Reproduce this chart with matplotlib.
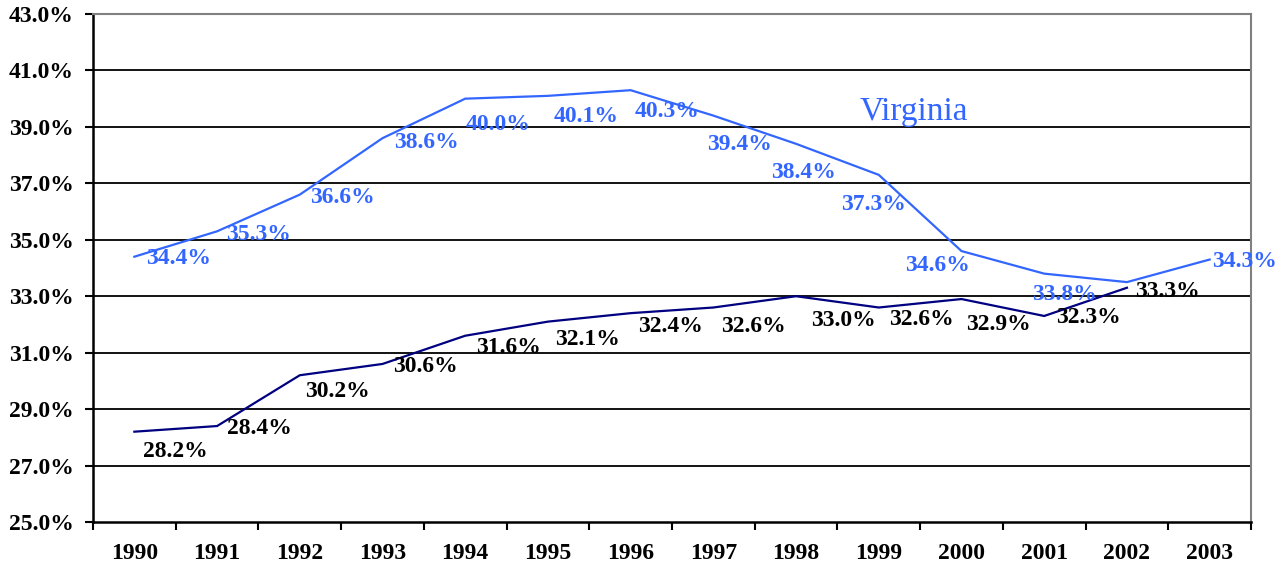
import matplotlib
import matplotlib.pyplot as plt
from matplotlib.ticker import FixedLocator

matplotlib.use('Agg')

years = ['1990', '1991', '1992', '1993', '1994', '1995', '1996',
         '1997', '1998', '1999', '2000', '2001', '2002', '2003']
virginia = [34.4, 35.3, 36.6, 38.6, 40.0, 40.1, 40.3, 39.4, 38.4, 37.3, 34.6, 33.8, 33.5, 34.3]
virginia_labels = ['34.4%', '35.3%', '36.6%', '38.6%', '40.0%', '40.1%', '40.3%',
                   '39.4%', '38.4%', '37.3%', '34.6%', '33.8%', '', '34.3%']
other = [28.2, 28.4, 30.2, 30.6, 31.6, 32.1, 32.4, 32.6, 33.0, 32.6, 32.9, 32.3, 33.3]
other_labels = ['28.2%', '28.4%', '30.2%', '30.6%', '31.6%', '32.1%', '32.4%',
                '32.6%', '33.0%', '32.6%', '32.9%', '32.3%', '33.3%']
yticks = [25, 27, 29, 31, 33, 35, 37, 39, 41, 43]

# label offsets in pixels (dx right, dy down) as placed in the original
virginia_off = [(44, 2), (41, 3), (43, 3), (44, 4), (33, 26), (38, 21), (36, 21),
                (26, 29), (7, 29), (-5, 30), (-24, 14), (20, 21), (0, 0), (35, 2)]
other_off = [(41, 20), (42, 2), (38, 16), (43, 3), (43, 12), (40, 18), (40, 13),
             (40, 19), (47, 24), (43, 12), (37, 25), (44, 2), (41, 4)]

blue = '#3366ff'
navy = '#000080'
font = 'Liberation Serif'
fs = 17

fig = plt.figure(figsize=(12.81, 5.75), dpi=100)
ax = fig.add_axes([93 / 1281, 53 / 575, (1251 - 93) / 1281, (522 - 14) / 575])

xs = list(range(len(years)))
ax.plot(xs, virginia, color=blue, lw=1.6, solid_joinstyle='miter')
ax.plot(xs[:len(other)], other, color=navy, lw=1.6, solid_joinstyle='miter')

for x, v, t, (dx, dy) in zip(xs, virginia, virginia_labels, virginia_off):
    if t:
        ax.annotate(t, (x, v), xytext=(dx, -dy), textcoords='offset pixels',
                    ha='center', va='center', color=blue, fontsize=fs,
                    fontweight='bold', family=font)
for x, v, t, (dx, dy) in zip(xs, other, other_labels, other_off):
    ax.annotate(t, (x, v), xytext=(dx, -dy), textcoords='offset pixels',
                ha='center', va='center', color='black', fontsize=fs,
                fontweight='bold', family=font)

ax.text(9.42, 39.24, 'Virginia', color=blue, fontsize=24, family=font,
        ha='center', va='baseline')

ax.set_xlim(-0.5, len(years) - 0.5)
ax.set_ylim(25, 43)
ax.set_yticks(yticks)
ax.set_yticklabels(['%.1f%%' % v for v in yticks])
ax.set_xticks(xs)
ax.set_xticklabels(years)
ax.xaxis.set_minor_locator(FixedLocator([i - 0.5 for i in range(len(years) + 1)]))
ax.tick_params(axis='x', which='major', length=0, pad=15)
ax.tick_params(axis='x', which='minor', length=5.8, width=1.5, color='black')
ax.tick_params(axis='y', length=5.8, width=1.5, pad=8)
for lab in ax.get_xticklabels() + ax.get_yticklabels():
    lab.set_family(font)
    lab.set_fontweight('bold')
    lab.set_fontsize(fs)

for v in yticks[1:-1]:
    ax.axhline(v, color='black', lw=1.3, zorder=0)

ax.spines['left'].set_linewidth(1.8)
ax.spines['bottom'].set_linewidth(1.8)
ax.spines['top'].set_color('#808080')
ax.spines['top'].set_linewidth(1.5)
ax.spines['right'].set_color('#808080')
ax.spines['right'].set_linewidth(1.5)

fig.savefig('out.png', dpi=100)
